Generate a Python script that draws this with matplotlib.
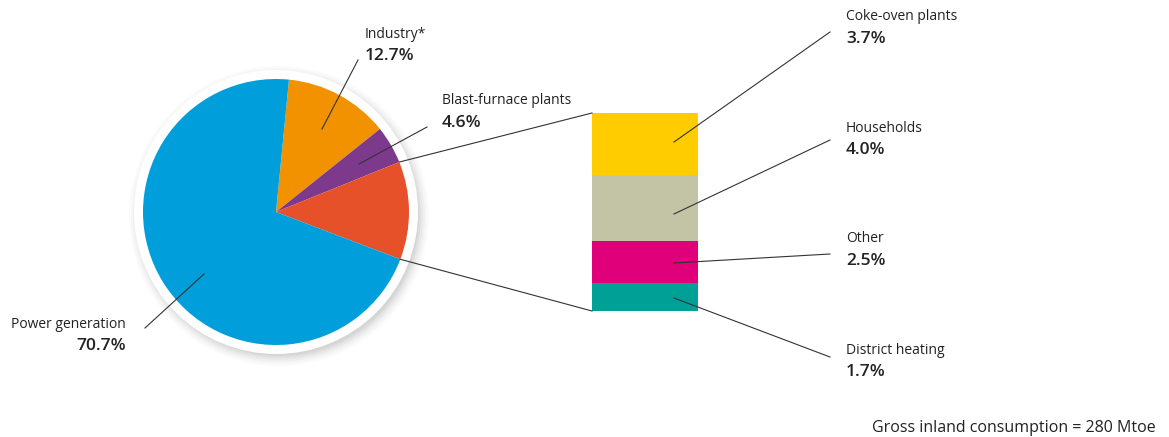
import matplotlib

matplotlib.use("Agg")
import matplotlib.pyplot as plt
import numpy as np
from matplotlib.patches import Circle

plt.rcParams["font.family"] = ["Open Sans", "DejaVu Sans"]

# pie: clockwise from the top
pie_labels = ["Industry*", "Blast-furnace plants", "Other uses", "Power generation"]
pie_values = [12.7, 4.6, 11.9, 70.7]
pie_colors = ["#f39200", "#7d3a8d", "#e6512a", "#009edb"]

# breakdown bar: bottom to top
bar_labels = ["District heating", "Other", "Households", "Coke-oven plants"]
bar_values = [1.7, 2.5, 4.0, 3.7]
bar_colors = ["#00a096", "#e0007a", "#c3c4a6", "#ffcc00"]

total_text = "Gross inland consumption = 280 Mtoe"

W, H = 1169, 437


def Y(y):
    # pixel row (from top) -> data y
    return H - y


fig = plt.figure(figsize=(W / 100, H / 100), dpi=100)

# stacked bar in its own axes (drawn below the main overlay)
bx0, by_top, bw, bh = 592, 113, 106, 198
bax = fig.add_axes([bx0 / W, (H - by_top - bh) / H, bw / W, bh / H])
bax.set_zorder(0)
bottom = 0.0
for val, col in zip(bar_values, bar_colors):
    bax.bar(0, val, bottom=bottom, width=1.0, color=col, linewidth=0)
    bottom += val
bax.set_xlim(-0.5, 0.5)
bax.set_ylim(0, sum(bar_values))
bax.axis("off")

ax = fig.add_axes([0, 0, 1, 1])
ax.set_zorder(1)

cx, cy, r = 276, Y(212), 133

# soft shadow + white ring around the pie
for i, a in enumerate([0.015, 0.02, 0.025, 0.03, 0.035, 0.045]):
    ax.add_patch(Circle((cx + 3, cy - 4), r + 17 - i * 2, color="black", alpha=a, lw=0, zorder=1))
ax.add_patch(Circle((cx, cy), r + 9, color="white", lw=0, zorder=2))

wedges, _ = ax.pie(
    pie_values,
    colors=pie_colors,
    startangle=84.4,
    counterclock=False,
    center=(cx, cy),
    radius=r,
    wedgeprops={"linewidth": 0, "zorder": 3},
    frame=True,
)
ax.set_xlim(0, W)
ax.set_ylim(0, H)
ax.set_aspect("equal")
ax.axis("off")

line_kw = dict(color="#333333", lw=0.8, zorder=5)

# connectors from the "other uses" wedge to the bar
w_other = wedges[2]
for theta, ybar in [(w_other.theta2, by_top), (w_other.theta1, by_top + bh)]:
    px = cx + r * np.cos(np.radians(theta))
    py = cy + r * np.sin(np.radians(theta))
    ax.plot([px, bx0], [py, Y(ybar)], **line_kw)

label_kw = dict(fontsize=10, color="#222222", va="center")
pct_kw = dict(fontsize=12.5, color="#222222", va="center", fontweight="semibold")

# pie labels
ax.plot([322, 358], [Y(129), Y(60)], **line_kw)
ax.text(365, Y(35), pie_labels[0], **label_kw)
ax.text(365, Y(56), f"{pie_values[0]}%", **pct_kw)

ax.plot([359, 427], [Y(164), Y(127)], **line_kw)
ax.text(442, Y(101), pie_labels[1], **label_kw)
ax.text(442, Y(123), f"{pie_values[1]}%", **pct_kw)

ax.plot([145, 204], [Y(328), Y(274)], **line_kw)
ax.text(126, Y(324), pie_labels[3], ha="right", **label_kw)
ax.text(126, Y(346), f"{pie_values[3]}%", ha="right", **pct_kw)

# bar labels
anchors = {
    "Coke-oven plants": (142, 32, 17),
    "Households": (214, 140, 128),
    "Other": (263, 254, 239),
    "District heating": (298, 357, 350),
}
for lab, val in zip(bar_labels, bar_values):
    y0, y1, yt = anchors[lab]
    ax.plot([674, 830], [Y(y0), Y(y1)], **line_kw)
    ax.text(846, Y(yt), lab, **label_kw)
    ax.text(846, Y(yt + 22), f"{val}%", **pct_kw)

ax.text(1156, Y(428), total_text, ha="right", fontsize=11.5, color="#222222", va="center")

fig.savefig("out.png", dpi=100)
